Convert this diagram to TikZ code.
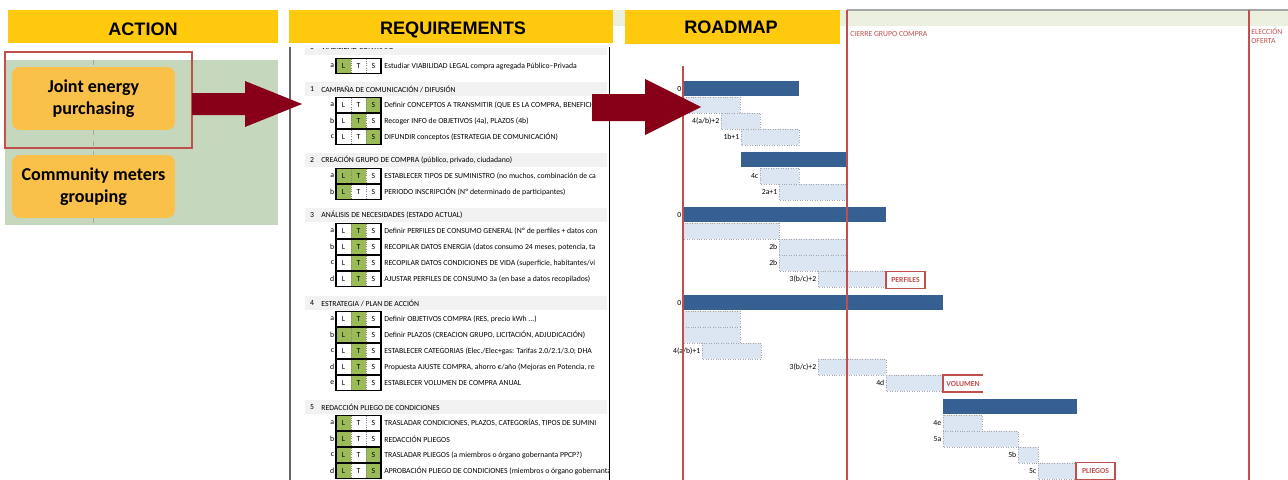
\documentclass[tikz,border=0pt]{standalone}
\usepackage{fontspec}
\setmainfont{Carlito}
\newfontfamily\hdrfont{Liberation Sans}
\usetikzlibrary{calc}

\definecolor{hdryellow}{HTML}{FFC90E}
\definecolor{panelgreen}{HTML}{C5D7BD}
\definecolor{boxorange}{HTML}{F9C04A}
\definecolor{darkred}{HTML}{870017}
\definecolor{linered}{HTML}{C0504D}
\definecolor{ltsgreen}{HTML}{9BBB59}
\definecolor{bandgray}{HTML}{F2F2F2}
\definecolor{barblue}{HTML}{376092}
\definecolor{barlight}{HTML}{DCE6F2}
\definecolor{stripgreen}{HTML}{EBF1DE}

\tikzset{
	hdrtxt/.style={inner sep=0pt, font=\hdrfont\bfseries\fontsize{10.3}{12}\selectfont},
	actbox/.style={fill=boxorange, rounded corners=4.5pt, minimum width=3.26cm, minimum height=1.26cm, inner sep=0pt, align=center, font=\bfseries\fontsize{10.3}{12.5}\selectfont},
	reqtxt/.style={inner sep=0pt, font=\fontsize{4.4}{5}\selectfont},
	ltssep/.style={densely dotted, gray, line width=0.3pt},
	taskbar/.style={fill=barlight, draw=gray!70, densely dotted, line width=0.4pt},
	gantlbl/.style={anchor=east, inner sep=0.8pt, font=\fontsize{4.4}{5}\selectfont},
	milestone/.style={draw=linered, line width=1.1pt, text=linered, minimum height=0.34cm, inner sep=0pt, font=\bfseries\fontsize{4.4}{5}\selectfont},
	msttxt/.style={text=linered, inner sep=0pt, anchor=west, font=\fontsize{4.4}{5}\selectfont}
}

% section header of the requirement list
\newcommand{\secrow}[4]{%
	\fill[bandgray] (305,#3-7) rectangle (607,#3+7);
	\node[reqtxt] (#1n) at (312,#3) {#2};
	\node[reqtxt, anchor=west] (#1) at (321,#3) {#4};
}
% requirement row: name, letter, y, L, T, S fill, text
\newcommand{\reqrow}[7]{%
	\fill[#4] (336,#3-7.5) rectangle (351,#3+7.5);
	\fill[#5] (351,#3-7.5) rectangle (366,#3+7.5);
	\fill[#6] (366,#3-7.5) rectangle (381,#3+7.5);
	\draw[ltssep] (351,#3-7.5) -- (351,#3+7.5) (366,#3-7.5) -- (366,#3+7.5);
	\draw[line width=0.6pt] (336,#3-7.5) rectangle (381,#3+7.5);
	\node[reqtxt] at (343.5,#3) {L};
	\node[reqtxt] at (358.5,#3) {T};
	\node[reqtxt] at (373.5,#3) {S};
	\node[reqtxt, anchor=east] at (334.5,#3) {#2};
	\node[reqtxt, anchor=west] (#1) at (384,#3) {#7};
}
% gantt bars: name, y, x start, x end, label
\newcommand{\gsum}[5]{%
	\fill[barblue] (#3,#2-8) rectangle (#4,#2+7);
	\node[gantlbl] (#1) at (#3,#2) {#5};
}
\newcommand{\gtask}[5]{%
	\draw[taskbar] (#3,#2-8) rectangle (#4,#2+8);
	\node[gantlbl] (#1) at (#3,#2) {#5};
}

\begin{document}
\begin{tikzpicture}[x=0.02cm, y=-0.02cm]
	%%%%% START %%%%%
	\useasboundingbox[fill=white] (0,0) rectangle (1288,480);

	% action panel
	\fill[panelgreen] (5,60) rectangle (278,225);
	\draw[dashed, gray!70, line width=0.3pt] (93,60) -- (93,67) (93,130) -- (93,155) (93,218) -- (93,225);
	\node[actbox] (joint) at (93.5,98.5) {Joint energy\\purchasing};
	\node[actbox] (meters) at (93.5,186.5) {Community meters\\grouping};
	\draw[line width=1.2pt, color=linered] (5,52) rectangle (192,148);

	% headers
	\fill[stripgreen] (605,10) rectangle (1288,26);
	\draw[gray!70, line width=0.6pt] (847,10) -- (1288,10);
	\fill[hdryellow] (8,10) rectangle (278,43);
	\fill[hdryellow] (289,10) rectangle (613,43);
	\fill[hdryellow] (625,10) rectangle (840,44);
	\node[hdrtxt] (action) at (143,29) {ACTION};
	\node[hdrtxt] (requirements) at (453,29.5) {REQUIREMENTS};
	\node[hdrtxt] (roadmap) at (731,27) {ROADMAP};

	% requirements list
	\draw[gray!80!black, line width=0.7pt] (290,47) -- (290,480);
	\draw[line width=0.9pt] (609.5,47) -- (609.5,480);
	\begin{scope}
		\clip (291,48) rectangle (608,480);
		\secrow{s0}{0}{47.5}{VIABILIDAD CONTRATO}
		\reqrow{r0a}{a}{66}{ltsgreen}{white}{white}{Estudiar VIABILIDAD LEGAL compra agregada Público--Privada}
		\secrow{s1}{1}{89}{CAMPAÑA DE COMUNICACIÓN / DIFUSIÓN}
		\reqrow{r1a}{a}{105}{white}{white}{ltsgreen}{Definir CONCEPTOS A TRANSMITIR (QUE ES LA COMPRA, BENEFICIOS)}
		\reqrow{r1b}{b}{121}{white}{ltsgreen}{white}{Recoger INFO de OBJETIVOS (4a), PLAZOS (4b)}
		\reqrow{r1c}{c}{137}{white}{white}{ltsgreen}{DIFUNDIR conceptos (ESTRATEGIA DE COMUNICACIÓN)}
		\secrow{s2}{2}{160}{CREACIÓN GRUPO DE COMPRA (público, privado, ciudadano)}
		\reqrow{r2a}{a}{176}{ltsgreen}{ltsgreen}{white}{ESTABLECER TIPOS DE SUMINISTRO (no muchos, combinación de ca}
		\reqrow{r2b}{b}{192}{ltsgreen}{white}{white}{PERIODO INSCRIPCIÓN (Nº determinado de participantes)}
		\secrow{s3}{3}{215}{ANÁLISIS DE NECESIDADES (ESTADO ACTUAL)}
		\reqrow{r3a}{a}{231}{white}{ltsgreen}{white}{Definir PERFILES DE CONSUMO GENERAL (Nº de perfiles + datos con}
		\reqrow{r3b}{b}{247}{white}{ltsgreen}{white}{RECOPILAR DATOS ENERGIA (datos consumo 24 meses, potencia, ta}
		\reqrow{r3c}{c}{263}{white}{ltsgreen}{white}{RECOPILAR DATOS CONDICIONES DE VIDA (superficie, habitantes/vi}
		\reqrow{r3d}{d}{279}{white}{ltsgreen}{white}{AJUSTAR PERFILES DE CONSUMO 3a (en base a datos recopilados)}
		\secrow{s4}{4}{303}{ESTRATEGIA / PLAN DE ACCIÓN}
		\reqrow{r4a}{a}{319}{white}{ltsgreen}{white}{Definir OBJETIVOS COMPRA (RES, precio kWh ...)}
		\reqrow{r4b}{b}{335}{ltsgreen}{ltsgreen}{white}{Definir PLAZOS (CREACION GRUPO, LICITACIÓN, ADJUDICACIÓN)}
		\reqrow{r4c}{c}{351}{white}{ltsgreen}{white}{ESTABLECER CATEGORIAS (Elec./Elec+gas: Tarifas 2.0/2.1/3.0; DHA}
		\reqrow{r4d}{d}{367}{white}{ltsgreen}{white}{Propuesta AJUSTE COMPRA, ahorro €/año (Mejoras en Potencia, re}
		\reqrow{r4e}{e}{383}{white}{ltsgreen}{white}{ESTABLECER VOLUMEN DE COMPRA ANUAL}
		\secrow{s5}{5}{407}{REDACCIÓN PLIEGO DE CONDICIONES}
		\reqrow{r5a}{a}{423}{ltsgreen}{white}{white}{TRASLADAR CONDICIONES, PLAZOS, CATEGORÍAS, TIPOS DE SUMINI}
		\reqrow{r5b}{b}{439}{ltsgreen}{white}{white}{REDACCIÓN PLIEGOS}
		\reqrow{r5c}{c}{455}{ltsgreen}{white}{ltsgreen}{TRASLADAR PLIEGOS (a miembros o órgano gobernanta PPCP?)}
		\reqrow{r5d}{d}{471}{ltsgreen}{white}{ltsgreen}{APROBACIÓN PLIEGO DE CONDICIONES (miembros o órgano gobernanta)}
	\end{scope}

	% roadmap bars
	\gsum{g1}{89}{683}{799}{0}
	\gtask{g1a}{105}{683}{740}{}
	\gtask{g1b}{121}{721}{760}{4(a/b)+2}
	\gtask{g1c}{137}{741}{799}{1b+1}
	\gsum{g2}{160}{741}{847}{}
	\gtask{g2a}{176}{760}{799}{4c}
	\gtask{g2b}{192}{779}{847}{2a+1}
	\gsum{g3}{215}{683}{886}{0}
	\gtask{g3a}{231}{683}{779}{}
	\gtask{g3b}{247}{779}{847}{2b}
	\gtask{g3c}{263}{779}{847}{2b}
	\gtask{g3d}{279}{818}{886}{3(b/c)+2}
	\gsum{g4}{303}{683}{943}{0}
	\gtask{g4a}{319}{683}{740}{}
	\gtask{g4b}{335}{683}{740}{}
	\gtask{g4c}{351}{702}{761}{4(a/b)+1}
	\gtask{g4d}{367}{818}{886}{3(b/c)+2}
	\gtask{g4e}{383}{886}{943}{4d}
	\gsum{g5}{407}{943}{1077}{}
	\gtask{g5a}{423}{943}{982}{4e}
	\gtask{g5b}{439}{943}{1018}{5a}
	\gtask{g5c}{455}{1018}{1038}{5b}
	\gtask{g5d}{471}{1038}{1076}{5c}

	% milestones
	\draw[line width=1.1pt, color=linered] (683,66) -- (683,480);
	\draw[line width=1.1pt, color=linered] (847,10) -- (847,480);
	\draw[line width=1.1pt, color=linered] (1249,10) -- (1249,480);
	\node[msttxt] (cierre) at (850,34) {CIERRE GRUPO COMPRA};
	\node[msttxt] (eleccion) at (1251,31) {ELECCIÓN};
	\node[msttxt] (oferta) at (1251,41) {OFERTA};
	\node[milestone, minimum width=0.78cm] (perfiles) at (905.5,280) {PERFILES};
	\draw[line width=1.1pt, color=linered] (983,375) -- (943,375) -- (943,392) -- (983,392);
	\node[msttxt, font=\bfseries\fontsize{4.4}{5}\selectfont] (volumen) at (946,383.5) {VOLUMEN};
	\node[milestone, minimum width=0.78cm] (pliegos) at (1095.5,471) {PLIEGOS};

	% big arrows
	\fill[darkred] (192,93) -- (245,93) -- (245,81) -- (302,104) -- (245,127) -- (245,115) -- (192,115) -- cycle;
	\fill[darkred] (592,94) -- (645,94) -- (645,79) -- (701,107) -- (645,135) -- (645,121) -- (592,121) -- cycle;

	%%%%% END %%%%%
\end{tikzpicture}
\end{document}
